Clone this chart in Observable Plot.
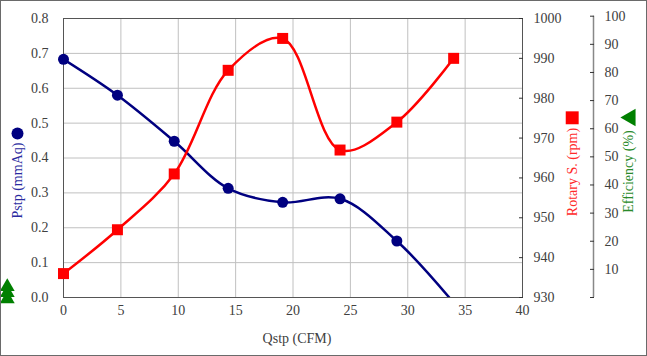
<!DOCTYPE html>
<html>
<head>
<meta charset="utf-8">
<script src="https://cdn.jsdelivr.net/npm/d3@7"></script>
<script src="https://cdn.jsdelivr.net/npm/@observablehq/plot@0.6"></script>
<style>
  html, body { margin: 0; padding: 0; background: #fff; }
  #chart svg { display: block; outline: 1px solid #6a6a6a; outline-offset: -1px; }
  #chart svg, #chart svg g, #chart svg text { font-family: "Liberation Serif", "Times New Roman", serif !important; }
</style>
</head>
<body>
<div id="chart"></div>
<script>
// ---- data ----
const qstp   = [0, 4.7, 9.65, 14.35, 19.1, 24.1, 29.05, 34.0];          // Qstp (CFM)
const pstp   = [0.683, 0.580, 0.448, 0.313, 0.273, 0.283, 0.162, -0.015]; // Pstp (mmAq)
const rpm    = [936, 947, 961, 987, 995, 967, 974, 990];                  // Rotary S. (rpm)
const effQ   = [-4.9, -4.9, -4.9];                                        // stray efficiency markers
const effVal = [3.8, 1.7, -0.5];                                          // Efficiency (%)

const xTicks   = [0, 5, 10, 15, 20, 25, 30, 35, 40];
const yTicks   = [0, 0.1, 0.2, 0.3, 0.4, 0.5, 0.6, 0.7, 0.8];
const rpmTicks = [930, 940, 950, 960, 970, 980, 990, 1000];
const effTicks = [0, 10, 20, 30, 40, 50, 60, 70, 80, 90, 100];

const xLabel   = "Qstp (CFM)";
const yLabel   = "Pstp (mmAq)";
const rpmLabel = "Rotary S. (rpm)";
const effLabel = "Efficiency (%)";

// secondary scales mapped onto the primary y domain
const rpmToY = r => (r - 930) / 70 * 0.8;
const yToRpm = y => String(Math.round(y / 0.8 * 70 + 930));
const effToY = e => e / 100 * 0.8066;
const yToEff = y => Math.round(y / 0.8066 * 100);

const pData = qstp.map((q, i) => ({q, v: pstp[i]}));
const rData = qstp.map((q, i) => ({q, v: rpmToY(rpm[i])}));
const eData = effQ.map((q, i) => ({q, v: effToY(effVal[i])}));

const FONT = "Liberation Serif, Times New Roman, serif";
const NAVY = "#000080", RED = "#ff0000", GREEN = "#008000";
const AX = {fontSize: 14, fontFamily: FONT, label: null};

const chart = Plot.plot({
  width: 647,
  height: 356,
  marginLeft: 63,
  marginRight: 125,
  marginTop: 18,
  marginBottom: 59,
  style: {fontFamily: FONT, fontSize: "14px", color: "#404040", background: "#fff"},
  x: {domain: [0, 40]},
  y: {domain: [0, 0.8]},
  marks: [
    Plot.gridX(xTicks, {stroke: "#c0c0c0", strokeOpacity: 1}),
    Plot.gridY(yTicks, {stroke: "#c0c0c0", strokeOpacity: 1}),
    Plot.frame({stroke: "#555"}),
    Plot.axisX({...AX, ticks: xTicks, tickSize: 0, tickPadding: 8}),
    Plot.axisY({...AX, ticks: yTicks, tickSize: 0, tickPadding: 15, tickFormat: d3.format(".1f")}),
    Plot.axisY({...AX, anchor: "right", ticks: rpmTicks.map(rpmToY), tickFormat: yToRpm, tickSize: -4, tickPadding: 15, stroke: "#333"}),
    Plot.ruleX([40], {y1: 0, y2: effToY(100), dx: 71, stroke: "#888", strokeWidth: 1.5}),
    Plot.axisY({...AX, anchor: "right", dx: 71, ticks: effTicks.map(effToY), tickFormat: d => { const e = yToEff(d); return e === 0 ? "" : String(e); }, tickSize: -4, tickPadding: 15, stroke: "#333"}),
    // series
    Plot.line(pData, {x: "q", y: "v", stroke: NAVY, strokeWidth: 2.5, curve: "catmull-rom", clip: true}),
    Plot.dot(pData.filter(d => d.v >= 0), {x: "q", y: "v", fill: NAVY, r: 5.5, symbol: "circle"}),
    Plot.line(rData, {x: "q", y: "v", stroke: RED, strokeWidth: 2.5, curve: "catmull-rom", clip: true}),
    Plot.dot(rData, {x: "q", y: "v", fill: RED, r: 6.2, symbol: "square"}),
    Plot.dot(eData, {x: "q", y: "v", fill: GREEN, r: 5.5, symbol: "triangle"}),
    // axis titles with their series markers
    Plot.text([xLabel], {text: d => d, frameAnchor: "bottom", textAnchor: "middle", dx: 4, dy: 41, lineAnchor: "middle", fontSize: 14, fontFamily: FONT, fill: "#404040"}),
    Plot.text([yLabel], {text: d => d, frameAnchor: "left", textAnchor: "middle", dx: -45.5, dy: 22.5, rotate: -90, lineAnchor: "middle", fontSize: 14, fontFamily: FONT, fill: "#2a2aa0"}),
    Plot.dot([0], {frameAnchor: "left", dx: -46, dy: -24.5, r: 6, fill: NAVY, symbol: "circle"}),
    Plot.text([rpmLabel], {text: d => d, frameAnchor: "right", textAnchor: "middle", dx: 49.7, dy: 14, rotate: -90, lineAnchor: "middle", fontSize: 14, fontFamily: FONT, fill: "#ff2a2a"}),
    Plot.dot([0], {frameAnchor: "right", dx: 49.7, dy: -40.2, r: 7.3, fill: RED, symbol: "square"}),
    Plot.text([effLabel], {text: d => d, frameAnchor: "right", textAnchor: "middle", dx: 106.3, dy: 13.5, rotate: -90, lineAnchor: "middle", fontSize: 14, fontFamily: FONT, fill: "#2a8a2a"}),
    Plot.dot([0], {frameAnchor: "right", dx: 108, dy: -40.5, r: 6.5, fill: GREEN, symbol: "triangle", rotate: -90})
  ]
});
document.getElementById("chart").appendChild(chart);
</script>
</body>
</html>
